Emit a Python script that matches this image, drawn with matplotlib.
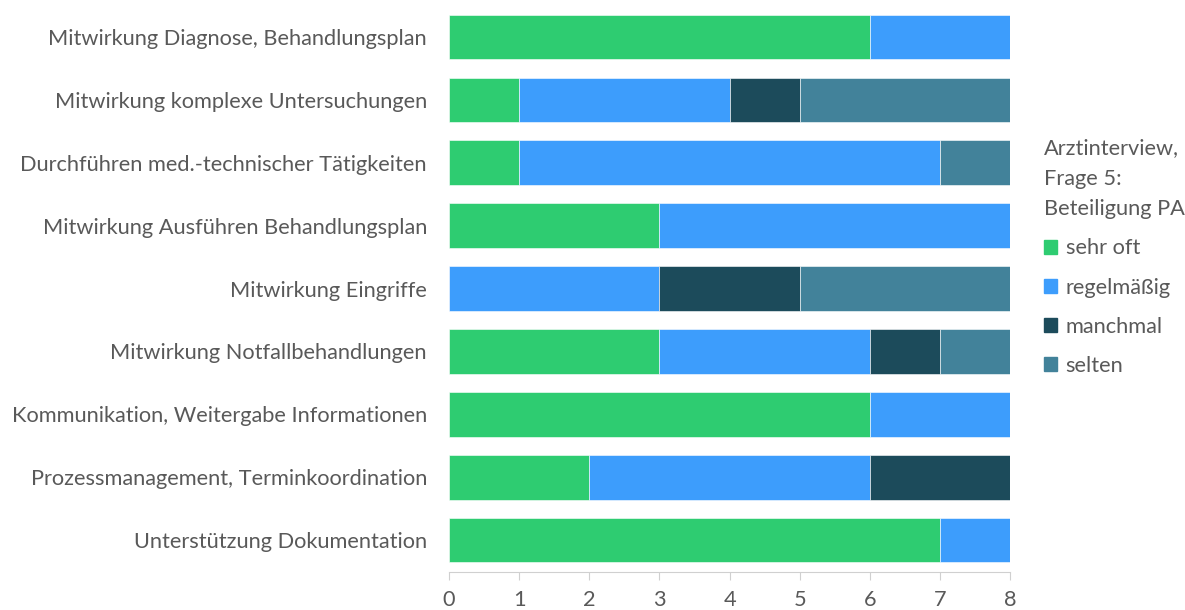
import numpy as np
import matplotlib.pyplot as plt
from matplotlib.patches import Patch

plt.rcParams['font.family'] = ['Lato', 'DejaVu Sans']

# Daten (von oben nach unten)
kategorien = [
    'Mitwirkung Diagnose, Behandlungsplan',
    'Mitwirkung komplexe Untersuchungen',
    'Durchführen med.-technischer Tätigkeiten',
    'Mitwirkung Ausführen Behandlungsplan',
    'Mitwirkung Eingriffe',
    'Mitwirkung Notfallbehandlungen',
    'Kommunikation, Weitergabe Informationen',
    'Prozessmanagement, Terminkoordination',
    'Unterstützung Dokumentation',
]
sehr_oft = [6, 1, 1, 3, 0, 3, 6, 2, 7]
regelmaessig = [2, 3, 6, 5, 3, 3, 2, 4, 1]
manchmal = [0, 1, 0, 0, 2, 1, 0, 2, 0]
selten = [0, 3, 1, 0, 3, 1, 0, 0, 0]

serien = ['sehr oft', 'regelmäßig', 'manchmal', 'selten']
farben = ['#2ecc71', '#3d9dfc', '#1c4b5b', '#42829a']
textfarbe = '#595959'

fig = plt.figure(figsize=(11.85, 6.10), dpi=100)
ax = fig.add_axes([0.379, 0.063, 0.4734, 0.928])

y = np.arange(len(kategorien))[::-1]
links = np.zeros(len(kategorien))
for werte, farbe, name in zip([sehr_oft, regelmaessig, manchmal, selten], farben, serien):
    werte = np.array(werte, dtype=float)
    ax.barh(y, werte, left=links, height=0.71, color=farbe,
            edgecolor='white', linewidth=0.4, label=name)
    links += werte

ax.set_xlim(0, 8)
ax.set_ylim(-0.5, len(kategorien) - 0.5)
ax.set_yticks(y)
ax.set_yticklabels(kategorien, fontsize=15.7, color=textfarbe)
ax.set_xticks(range(0, 9))
ax.tick_params(axis='y', length=0, pad=16)
ax.tick_params(axis='x', length=6, color='#d0d0d0', labelsize=15.7,
               labelcolor=textfarbe, pad=7)
for s in ['top', 'right', 'left']:
    ax.spines[s].set_visible(False)
ax.spines['bottom'].set_color('#d0d0d0')

handles = [Patch(color=f) for f in farben]
leg = fig.legend(handles, serien, loc='upper left', bbox_to_anchor=(0.881, 0.773),
                 title='Arztinterview,\nFrage 5:\nBeteiligung PA', frameon=False,
                 fontsize=15.7, title_fontsize=15.7, handlelength=0.6, handleheight=0.6,
                 handletextpad=0.4, labelspacing=0.88, alignment='left',
                 borderaxespad=0, borderpad=0)
leg.get_title().set_color(textfarbe)
leg.get_title().set_linespacing(1.65)
for t in leg.get_texts():
    t.set_color(textfarbe)

plt.savefig('out.png', dpi=100)
